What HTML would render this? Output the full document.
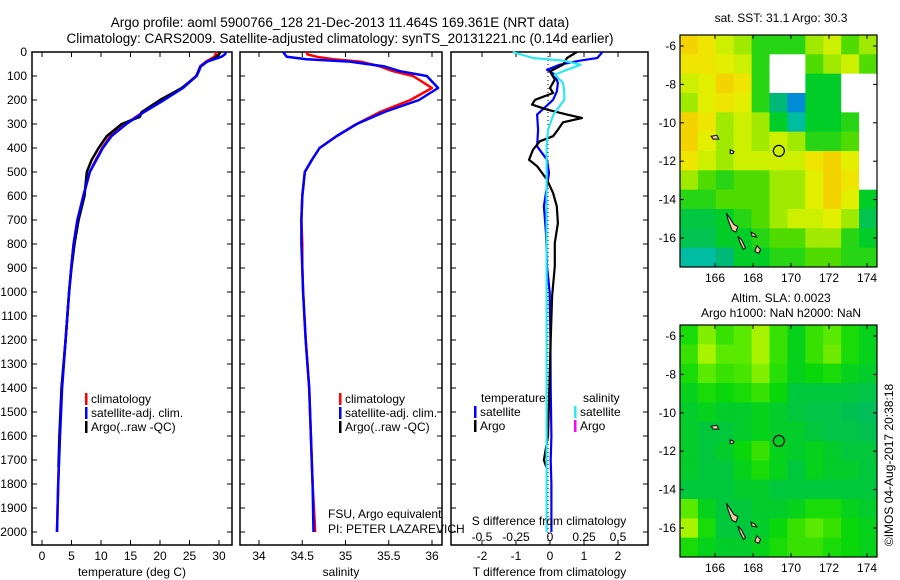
<!DOCTYPE html>
<html><head><meta charset="utf-8"><style>
body{margin:0;background:#fff;}
svg{display:block;font-family:"Liberation Sans",sans-serif;}
text{fill:#000;}
</style></head><body>
<svg id="fig" width="900" height="580" viewBox="0 0 900 580">
<text x="340" y="27" font-size="13.5" text-anchor="middle">Argo profile: aoml 5900766_128 21-Dec-2013 11.464S 169.361E (NRT data)</text>
<text x="340" y="43" font-size="13.5" text-anchor="middle">Climatology: CARS2009. Satellite-adjusted climatology: synTS_20131221.nc (0.14d earlier)</text>
<g id="p1"></g>
<g id="p2"></g>
<g id="p3"></g>
<g id="m1"></g>
<g id="m2"></g>
<text x="781" y="22" font-size="12" text-anchor="middle">sat. SST: 31.1 Argo: 30.3</text>
<text x="781" y="302" font-size="12" text-anchor="middle">Altim. SLA: 0.0023</text>
<text x="781" y="317" font-size="12" text-anchor="middle">Argo h1000: NaN h2000: NaN</text>
<text transform="translate(893,465) rotate(-90)" font-size="12" text-anchor="middle">©IMOS 04-Aug-2017 20:38:18</text>
</svg>
<script>
const depths=[0,10,20,30,40,60,80,100,150,200,250,300,350,400,450,500,600,700,800,900,1000,1200,1400,1600,1800,2000];
const tempClim=[29.6,29.4,29.2,28.5,27.8,26.8,26.5,26.1,23.8,20.6,17.1,14.2,11.6,10.2,9.1,8.1,7.0,6.0,5.35,4.95,4.6,4.0,3.35,3.0,2.75,2.55];
const tempSat=[31.2,31.0,30.4,29.2,28.0,26.9,26.6,26.2,23.9,20.7,17.3,14.3,11.8,10.3,9.2,8.1,7.0,6.0,5.35,4.95,4.6,4.0,3.4,3.05,2.75,2.55];
const argoDepths=[0,10,20,30,40,60,80,100,150,200,250,270,300,350,400,450,500,600,700,800,900,1000,1200,1400,1600,1730];
const tempArgo=[30.2,30.0,29.6,28.9,28.0,26.9,26.5,26.2,23.7,20.0,16.9,16.6,13.5,11.0,9.6,8.4,7.6,7.2,6.2,5.5,5.0,4.6,4.0,3.3,2.95,2.8];
const salClim=[34.55,34.56,34.67,34.86,35.17,35.4,35.55,35.78,36.0,35.75,35.4,35.13,34.9,34.7,34.61,34.53,34.5,34.49,34.5,34.5,34.51,34.54,34.58,34.6,34.62,34.65];
const salSat=[34.28,34.3,34.32,34.55,35.05,35.45,35.63,35.94,36.07,35.85,35.45,35.13,34.9,34.7,34.61,34.53,34.5,34.49,34.49,34.5,34.51,34.54,34.58,34.6,34.62,34.63];
const diffDepths=[0,25,36,53,74,94,129,164,199,261,324,393,449,504,643,754,893,1000,1200,1400,1600,1700,1800,2000];
const tDiffSat=[1.6,1.45,0.95,0.35,-0.03,0.2,0.29,0.26,0.15,-0.32,-0.29,-0.32,-0.03,0.03,-0.12,-0.06,-0.03,0.05,0.07,0.08,0.1,0.08,0.1,0.1];
const argoDiffDepths=[0,25,53,81,115,150,171,199,219,240,261,275,293,324,351,372,407,449,476,532,588,643,713,796,893,1018,1200,1400,1600,1700,1730];
const tDiffArgo=[0.85,0.56,0.44,0.06,0.2,0.06,0.15,-0.38,-0.47,-0.03,0.56,1.0,0.44,0.29,0.15,-0.24,-0.44,-0.56,-0.32,-0.03,0.15,0.26,0.29,0.2,0.2,0.12,0.08,0.04,0.0,-0.12,-0.05];
const sDiffSat=[-0.26,-0.11,0.11,0.24,0.14,0.05,0.11,0.12,0.12,0.04,0.0,-0.01,-0.01,-0.01,-0.01,-0.01,-0.01,-0.01,-0.01,-0.01,-0.01,-0.01,-0.01,-0.01];
const depthTicks=[0,100,200,300,400,500,600,700,800,900,1000,1100,1200,1300,1400,1500,1600,1700,1800,1900,2000];
const tempTicks=[0,5,10,15,20,25,30];
const salTicks=[34,34.5,35,35.5,36];
const tdTicks=[-2,-1,0,1,2];
const sdTicks=[-0.5,-0.25,0,0.25,0.5];
const sstGrid=[
[0.8,0.75,0.65,0.6,0.5,0.5,0.5,0.6,0.65,0.55,0.6],
[0.75,0.75,0.7,0.65,0.5,-1,-1,0.55,0.6,0.65,0.55],
[0.65,0.7,0.8,0.75,0.5,-1,-1,0.45,0.45,-1,-1],
[0.6,0.7,0.75,0.7,0.5,0.35,0.2,0.45,0.45,-1,-1],
[0.8,0.75,0.6,0.65,0.6,0.45,0.3,0.45,0.45,0.5,-1],
[0.8,0.7,0.6,0.65,0.6,0.65,0.6,0.5,0.5,0.55,-1],
[0.75,0.65,0.6,0.65,0.65,0.65,0.65,0.75,0.8,0.7,-1],
[0.6,0.55,0.5,0.55,0.55,0.6,0.6,0.7,0.8,0.75,-1],
[0.5,0.5,0.55,0.55,0.55,0.6,0.6,0.7,0.8,0.7,0.45],
[0.42,0.42,0.45,0.5,0.55,0.6,0.65,0.65,0.7,0.6,0.4],
[0.4,0.4,0.45,0.45,0.5,0.55,0.55,0.6,0.6,0.5,0.45],
[0.3,0.3,0.35,0.45,0.45,0.5,0.5,0.55,0.55,0.5,0.5]];
const slaGrid=[
[0.5,0.8,0.6,0.7,0.9,0.6,0.4,0.6,0.7,0.5,0.4],
[0.6,0.9,0.7,0.7,0.9,0.6,0.4,0.6,0.75,0.5,0.4],
[0.5,0.7,0.6,0.65,0.8,0.55,0.4,0.45,0.5,0.4,0.35],
[0.4,0.5,0.45,0.5,0.6,0.45,0.3,0.3,0.3,0.3,0.25],
[0.35,0.4,0.35,0.35,0.4,0.35,0.3,0.25,0.25,0.2,0.15],
[0.35,0.3,0.3,0.35,0.4,0.35,0.35,0.3,0.25,0.25,0.2],
[0.35,0.3,0.35,0.45,0.6,0.4,0.35,0.4,0.35,0.3,0.3],
[0.35,0.3,0.3,0.4,0.5,0.4,0.3,0.4,0.35,0.35,0.3],
[0.3,0.3,0.3,0.35,0.35,0.3,0.3,0.3,0.3,0.3,0.3],
[0.7,0.4,0.3,0.3,0.35,0.35,0.4,0.5,0.5,0.4,0.35],
[0.9,0.5,0.3,0.3,0.35,0.45,0.6,0.7,0.6,0.45,0.4],
[0.5,0.4,0.35,0.35,0.4,0.5,0.6,0.6,0.5,0.45,0.4]];
const mapLonTicks=[166,168,170,172,174];
const mapLatTicks=[-6,-8,-10,-12,-14,-16];
const argoLon=169.361, argoLat=-11.464;
const islandLon=[[166.6,166.8,167.0,167.2,167.1,166.9,166.7],[167.2,167.4,167.6,167.5,167.3],[165.8,166.1,166.2,165.9],[166.8,167.0,166.95,166.8],[168.2,168.4,168.3,168.1],[167.9,168.1,168.2,167.95]];
const islandLat=[[-14.7,-15.0,-15.3,-15.4,-15.7,-15.6,-15.1],[-15.9,-16.1,-16.5,-16.6,-16.2],[-10.7,-10.65,-10.85,-10.85],[-11.4,-11.5,-11.6,-11.6],[-16.4,-16.6,-16.8,-16.7],[-15.7,-15.8,-15.95,-15.9]];

const NS='http://www.w3.org/2000/svg';
function mk(tag,attrs,parent){const e=document.createElementNS(NS,tag);for(const k in attrs)e.setAttribute(k,attrs[k]);parent.appendChild(e);return e;}
function txt(s,x,y,parent,anchor,size){const t=mk('text',{x:x,y:y,'font-size':size||12,'text-anchor':anchor||'start'},parent);t.textContent=s;return t;}
const TOP=52,BOT=545,yD=d=>TOP+d*0.24;

function panel(g,L,R,xFn,ticks,label,leftLabels){
  const box=mk('rect',{x:L,y:TOP,width:R-L,height:BOT-TOP,fill:'none',stroke:'#000','stroke-width':1.5},g);
  
  
  depthTicks.forEach(d=>{
    mk('line',{x1:L,x2:L+5,y1:yD(d),y2:yD(d),stroke:'#000'},g);
    mk('line',{x1:R-5,x2:R,y1:yD(d),y2:yD(d),stroke:'#000'},g);
    if(leftLabels){const t=txt(String(d),L-5,yD(d)+4,g,'end');
      
      }
  });
  ticks.forEach(v=>{const x=xFn(v);
    mk('line',{x1:x,x2:x,y1:TOP,y2:TOP+5,stroke:'#000'},g);
    mk('line',{x1:x,x2:x,y1:BOT-5,y2:BOT,stroke:'#000'},g);
    const t=txt(String(v),x,560,g,'middle');
    
    
  });
  const t=txt(label,(L+R)/2,576,g,'middle');
  
  
}
function line(g,ds,vs,xFn,color,name,w){
  const pts=ds.map((d,i)=>xFn(vs[i]).toFixed(1)+','+yD(d).toFixed(1)).join(' ');
  const p=mk('polyline',{points:pts,fill:'none',stroke:color,'stroke-width':w||2.5,'stroke-linejoin':'round'},g);
  
  
}
function legend(g,x,y,items){
  items.forEach((it,i)=>{
    mk('rect',{x:x,y:y+i*14-10,width:2.5,height:12,fill:it[1]},g);
    const t=txt(it[0],x+6,y+i*14,g);
    
    
  });
}
// Panel 1
const p1=document.getElementById('p1');
const xT=v=>42+v*5.9;
panel(p1,32,232,xT,tempTicks,'temperature (deg C)',true);
line(p1,depths,tempClim,xT,'#f00','temperature-climatology-line');
line(p1,argoDepths,tempArgo,xT,'#000','temperature-argo-line');
line(p1,depths,tempSat,xT,'#00f','temperature-satellite-line');
legend(p1,85,403,[['climatology','#f00'],['satellite-adj. clim.','#00f'],['Argo(..raw -QC)','#000']]);
// Panel 2
const p2=document.getElementById('p2');
const xS=v=>259+(v-34)*86.5;
panel(p2,240,442,xS,salTicks,'salinity',false);
line(p2,depths,salClim,xS,'#f00','salinity-climatology-line');
line(p2,depths,salSat,xS,'#00f','salinity-satellite-line');
legend(p2,339,403,[['climatology','#f00'],['satellite-adj. clim.','#00f'],['Argo(..raw -QC)','#000']]);
let t=txt('FSU, Argo equivalent',328,518,p2);


t=txt('PI: PETER LAZAREVICH',328,533,p2);


// Panel 3
const p3=document.getElementById('p3');
const xTD=v=>548+v*34, xSD=v=>548+v*136;
panel(p3,451,648,v=>550+v*34,tdTicks,'T difference from climatology',false);
mk('line',{x1:548,x2:548,y1:TOP,y2:BOT,stroke:'#000','stroke-dasharray':'1,3'},p3);
line(p3,diffDepths,tDiffSat,xTD,'#00f','t-diff-satellite-line',2.2);
line(p3,argoDiffDepths,tDiffArgo,xTD,'#000','t-diff-argo-line',2.2);
line(p3,diffDepths,sDiffSat,xSD,'#2ee8f0','s-diff-satellite-line',2.2);
t=txt('temperature',481,402,p3);
t=txt('salinity',583,402,p3);
legend(p3,474,416,[['satellite','#00f'],['Argo','#000']]);
legend(p3,574,416,[['satellite','#2ee8f0'],['Argo','#f0f']]);
t=txt('S difference from climatology',549,525,p3,'middle');
sdTicks.forEach(v=>{const s=txt(String(v),550+v*136,541,p3,'middle');
  
  });
// Maps
const ML=680,MR=877,lonX=l=>715+(l-166)*19,latY=(top,la)=>top+11+(-6-la)*19.2;
const sstColors=[[0,[0,0,140]],[0.15,[0,90,230]],[0.25,[0,190,200]],[0.35,[0,185,120]],[0.45,[0,205,40]],[0.55,[80,220,0]],[0.62,[190,240,0]],[0.72,[235,240,0]],[0.82,[245,205,0]],[1,[245,150,0]]];
const slaColors=[[0,[0,180,120]],[0.3,[0,200,60]],[0.45,[10,215,10]],[0.65,[70,230,0]],[0.85,[150,240,0]],[1,[200,248,0]]];
function cmap(c,v){if(v<0)return '#fff';for(let i=1;i<c.length;i++){if(v<=c[i][0]){const a=c[i-1],b=c[i],f=(v-a[0])/(b[0]-a[0]);return 'rgb('+a[1].map((x,k)=>Math.round(x+(b[1][k]-x)*f)).join(',')+')';}}return 'rgb('+c[c.length-1][1].join(',')+')';}
function drawMap(id,top,grid,cm,name){
  const g=document.getElementById(id),bottom=top+232;
  const cw=(MR-ML)/grid[0].length, ch=(bottom-top)/grid.length;
  grid.forEach((row,r)=>row.forEach((v,c)=>{
    const cell=mk('rect',{x:ML+c*cw,y:top+r*ch,width:cw+0.5,height:ch+0.5,fill:cmap(cm,v)},g);
    
    
  }));
  islandLon.forEach((lons,i)=>{
    const pts=lons.map((l,k)=>lonX(l).toFixed(1)+','+latY(top,islandLat[i][k]).toFixed(1)).join(' ');
    const p=mk('polygon',{points:pts,fill:'#f8c8a0',stroke:'#000','stroke-width':1},g);
    
    
  });
  const c=mk('circle',{cx:lonX(argoLon),cy:latY(top,argoLat),r:5.5,fill:'none',stroke:'#000','stroke-width':1.2},g);
  
  
  const f=mk('rect',{x:ML,y:top,width:MR-ML,height:bottom-top,fill:'none',stroke:'#000','stroke-width':1.2},g);
  
  
  mapLonTicks.forEach(l=>{const x=lonX(l);
    mk('line',{x1:x,x2:x,y1:top,y2:top+4,stroke:'#000'},g);
    mk('line',{x1:x,x2:x,y1:bottom-4,y2:bottom,stroke:'#000'},g);
    const s=txt(String(l),x,bottom+15,g,'middle');
    
    });
  mapLatTicks.forEach(la=>{const y=latY(top,la);
    mk('line',{x1:ML,x2:ML+4,y1:y,y2:y,stroke:'#000'},g);
    mk('line',{x1:MR-4,x2:MR,y1:y,y2:y,stroke:'#000'},g);
    const s=txt(String(la),ML-4,y+4,g,'end');
    
    });
}
drawMap('m1',35,sstGrid,sstColors,'sst');
drawMap('m2',325,slaGrid,slaColors,'sla');
</script>
</body></html>
